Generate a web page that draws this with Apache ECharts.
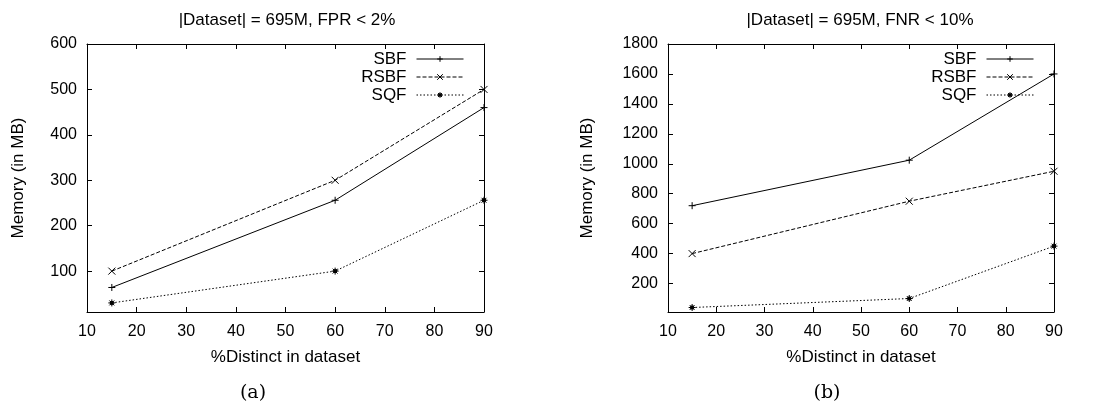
<!DOCTYPE html>
<html>
<head>
<meta charset="utf-8">
<script src="https://cdn.jsdelivr.net/npm/echarts@6/dist/echarts.min.js"></script>
<style>
  html, body { margin: 0; padding: 0; background: #fff; }
  #chart { width: 1094px; height: 407px; }
</style>
</head>
<body>
<div id="chart"></div>
<script>
// x positions (%Distinct in dataset)
const distinct = [15, 60, 90];

// (a) |Dataset| = 695M, FPR < 2%
const fprSBF = [64, 256, 460];
const fprRSBF = [100, 300, 500];
const fprSQF = [30, 100, 256];

// (b) |Dataset| = 695M, FNR < 10%
const fnrSBF = [720, 1024, 1600];
const fnrRSBF = [400, 750, 950];
const fnrSQF = [40, 100, 450];

const yTicksA = [100, 200, 300, 400, 500, 600];
const yTicksB = [200, 400, 600, 800, 1000, 1200, 1400, 1600, 1800];

const font = 'Liberation Sans, Arial, Helvetica, sans-serif';
const names = ['SBF', 'RSBF', 'SQF'];
const symbols = {
  SBF: 'path://M5 0V10M0 5H10',
  RSBF: 'path://M1 1L9 9M9 1L1 9',
  SQF: 'path://M5 0V10M0 5H10M1.5 1.5L8.5 8.5M8.5 1.5L1.5 8.5M3 3H7V7H3Z'
};
const dash = { SBF: 'solid', RSBF: [4, 2], SQF: [1.5, 2] };

function pts(vals) {
  return distinct.map((x, i) => [x, vals[i]]);
}

function series(name, vals, idx) {
  return {
    name: name,
    type: 'line',
    xAxisIndex: idx * 2,
    yAxisIndex: idx * 2,
    data: pts(vals),
    symbol: symbols[name],
    symbolSize: 7,
    showSymbol: true,
    lineStyle: { color: '#000', width: 1, type: dash[name] },
    itemStyle: { color: '#000', borderColor: '#000', borderWidth: 1 },
    animation: false
  };
}

function xAxes(gi) {
  const base = {
    type: 'value', gridIndex: gi, min: 10, max: 90, interval: 10,
    axisLine: { show: true, lineStyle: { color: '#000', width: 1 } },
    axisTick: { show: true, inside: true, length: 5, lineStyle: { color: '#000' } },
    splitLine: { show: false }
  };
  return [
    Object.assign({}, base, {
      position: 'bottom',
      axisLabel: { color: '#000', fontFamily: font, fontSize: 16, margin: 12 },
      name: '%Distinct in dataset', nameLocation: 'middle', nameGap: 37,
      nameTextStyle: { color: '#000', fontFamily: font, fontSize: 17 }
    }),
    Object.assign({}, base, { position: 'top', axisLabel: { show: false } })
  ];
}

function yAxes(gi, max, ticks, gap) {
  const base = {
    type: 'value', gridIndex: gi, min: 10, max: max,
    axisLine: { show: true, lineStyle: { color: '#000', width: 1 } },
    axisTick: { show: true, inside: true, length: 5, customValues: ticks, lineStyle: { color: '#000' } },
    splitLine: { show: false }
  };
  return [
    Object.assign({}, base, {
      position: 'left',
      axisLabel: {
        color: '#000', fontFamily: font, fontSize: 16, margin: 10, customValues: ticks,
        formatter: v => String(v)
      },
      name: 'Memory (in MB)', nameLocation: 'middle', nameGap: gap, nameRotate: 90,
      nameTextStyle: { color: '#000', fontFamily: font, fontSize: 17 }
    }),
    Object.assign({}, base, { position: 'right', axisLabel: { show: false } })
  ];
}

function legend(right) {
  return {
    orient: 'vertical', right: right, top: 50, align: 'right', padding: 0,
    itemWidth: 47, itemHeight: 7, itemGap: 0,
    data: names,
    lineStyle: { width: 1 },
    itemStyle: { borderWidth: 1 },
    textStyle: { color: '#000', fontFamily: font, fontSize: 17, lineHeight: 18, padding: [0, 5, 0, 0] },
    selectedMode: false
  };
}

function text(str, x, y, size, family) {
  return {
    type: 'text', x: x, y: y,
    style: { text: str, fill: '#000', font: size + 'px ' + family, textAlign: 'center', textVerticalAlign: 'middle' }
  };
}

const chart = echarts.init(document.getElementById('chart'));
chart.setOption({
  animation: false,
  grid: [
    { left: 87, top: 44, width: 397, height: 268 },
    { left: 668, top: 44, width: 386, height: 268 }
  ],
  xAxis: xAxes(0).concat(xAxes(1)),
  yAxis: yAxes(0, 600, yTicksA, 60).concat(yAxes(1, 1800, yTicksB, 72)),
  legend: [legend(630), legend(60)],
  series: [
    series('SBF', fprSBF, 0), series('RSBF', fprRSBF, 0), series('SQF', fprSQF, 0),
    series('SBF', fnrSBF, 1), series('RSBF', fnrRSBF, 1), series('SQF', fnrSQF, 1)
  ],
  graphic: [
    text('|Dataset| = 695M, FPR < 2%', 287, 20, 17, font),
    text('|Dataset| = 695M, FNR < 10%', 860, 20, 17, font),
    text('(a)', 253, 393, 19, 'DejaVu Serif, Liberation Serif, serif'),
    text('(b)', 827, 393, 19, 'DejaVu Serif, Liberation Serif, serif')
  ]
});
</script>
</body>
</html>
